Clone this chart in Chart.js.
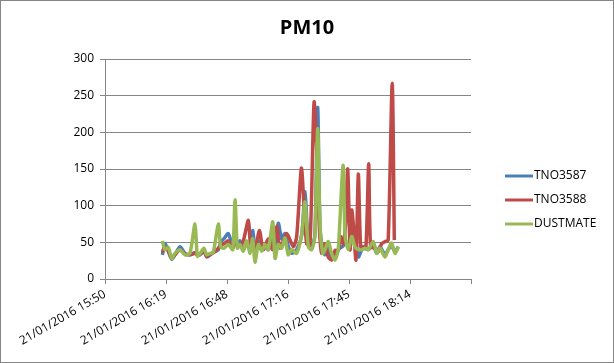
<!DOCTYPE html>
<html>
<head>
<meta charset="utf-8">
<title>PM10</title>
<script src="https://cdn.jsdelivr.net/npm/chart.js@4/dist/chart.umd.min.js"></script>
<style>
    html, body { margin: 0; padding: 0; background: #fff; }
    #wrap { width: 614px; height: 363px; box-sizing: border-box; border: 1px solid #868686; }
    canvas { display: block; }
</style>
</head>
<body>
<div id="wrap"><canvas id="pm10Chart" width="612" height="361"></canvas></div>
<script>
// ============================================
// DATA (time = minutes after 21/01/2016 15:50)
// ============================================

const xTickLabels = [
    '21/01/2016 15:50', '21/01/2016 16:19', '21/01/2016 16:48',
    '21/01/2016 17:16', '21/01/2016 17:45', '21/01/2016 18:14'
];

const seriesNames = ['TNO3587', 'TNO3588', 'DUSTMATE'];

// TNO3587 and DUSTMATE share the same sample times
const sampleMinutes = [
    27.1, 28.3, 29.9, 31.5, 33.0, 35.4, 37.8, 40.1, 42.5, 43.6,
    44.9, 46.7, 48.0, 49.6, 51.1, 53.5, 54.6, 56.2, 58.2, 60.3,
    61.4, 62.5, 63.7, 65.3, 66.9, 68.5, 69.7, 70.8, 72.4, 74.0,
    75.5, 77.1, 79.2, 80.3, 81.8, 83.4, 85.0, 86.5, 88.1, 90.5,
    92.9, 94.4, 96.0, 97.6, 99.1, 100.4, 101.5, 102.8, 103.9, 105.4,
    107.0, 108.6, 110.1, 112.4, 113.4, 114.9, 116.5, 118.0, 119.6, 121.2,
    122.7, 124.3, 126.7, 128.3, 129.8, 132.2, 133.7, 135.3, 136.9, 138.5
];

const tno3587Values = [
    33, 48, 38, 27, 33, 44, 35, 33, 36, 33,
    33, 38, 30, 33, 36, 40, 50, 55, 62, 45,
    55, 48, 52, 40, 48, 42, 66, 45, 52, 42,
    45, 40, 55, 45, 76, 55, 62, 45, 35, 40,
    60, 119, 50, 45, 60, 234, 70, 40, 33, 44,
    28, 30, 40, 45, 50, 45, 66, 60, 30, 40,
    42, 40, 45, 35, 44, 33, 40, 45, 38, 44
];

const dustmateValues = [
    52, 40, 43, 28, 35, 40, 33, 35, 75, 31,
    35, 42, 33, 35, 36, 75, 44, 42, 47, 40,
    108, 42, 47, 38, 52, 35, 55, 23, 47, 38,
    47, 40, 78, 28, 47, 42, 56, 33, 40, 35,
    62, 105, 44, 40, 58, 205, 76, 35, 40, 51,
    35, 26, 40, 155, 58, 40, 58, 44, 40, 40,
    42, 40, 51, 35, 42, 30, 40, 49, 35, 44
];

const tno3588Minutes = [
    27.1, 28.3, 29.9, 31.5, 33.0, 35.4, 37.8, 40.1, 42.5, 43.6,
    44.9, 46.7, 48.0, 49.6, 51.1, 53.5, 54.6, 56.2, 58.2, 60.3,
    61.4, 62.5, 63.7, 65.3, 67.7, 68.8, 70.8, 72.9, 74.7, 77.1,
    79.2, 81.1, 82.6, 85.8, 88.9, 90.5, 92.7, 94.0, 95.2, 96.8,
    98.7, 99.9, 101.2, 102.3, 103.9, 105.4, 107.0, 108.6, 110.1, 111.3,
    112.5, 113.6, 114.6, 115.7, 116.5, 117.2, 118.5, 119.6, 120.7, 121.9,
    123.2, 124.5, 125.4, 127.5, 129.0, 130.6, 132.2, 133.7, 135.6, 136.6
];

const tno3588Values = [
    36, 44, 38, 28, 33, 40, 34, 33, 35, 33,
    34, 38, 31, 33, 36, 42, 46, 48, 52, 42,
    50, 45, 45, 52, 80, 45, 40, 66, 40, 55,
    40, 72, 42, 62, 44, 58, 151, 99, 48, 48,
    241, 180, 70, 35, 48, 30, 26, 39, 39, 58,
    48, 76, 150, 40, 94, 76, 26, 143, 44, 44,
    44, 157, 44, 42, 37, 48, 51, 53, 267, 53
];

const seriesColors = ['#4A7EBB', '#BE4B48', '#98B954'];

// ============================================
// HELPERS
// ============================================

function toPoints(minutes, values) {
    // axis works in seconds so the 28.8 min tick step is a whole number
    return minutes.map((m, i) => ({ x: m * 60, y: values[i] }));
}

// legend drawn by hand in the empty band right of the plot
const sideLegend = {
    id: 'sideLegend',
    afterDraw(chart) {
        const { ctx, chartArea } = chart;
        const x = chartArea.right + 34;
        ctx.save();
        ctx.font = '12px "Open Sans"';
        ctx.textBaseline = 'middle';
        chart.data.datasets.forEach((ds, i) => {
            const y = chartArea.top + 117 + i * 24;
            ctx.strokeStyle = ds.borderColor;
            ctx.lineWidth = 3;
            ctx.beginPath();
            ctx.moveTo(x, y);
            ctx.lineTo(x + 28, y);
            ctx.stroke();
            ctx.fillStyle = '#000';
            ctx.fillText(ds.label, x + 29, y);
        });
        ctx.restore();
    }
};

// ============================================
// CHART
// ============================================

const gridColor = '#868686';
const tickFont = { family: 'Open Sans', size: 12 };

new Chart(document.getElementById('pm10Chart'), {
    type: 'line',
    data: {
        datasets: [
            {
                label: seriesNames[0],
                data: toPoints(sampleMinutes, tno3587Values),
                borderColor: seriesColors[0],
                order: 3
            },
            {
                label: seriesNames[1],
                data: toPoints(tno3588Minutes, tno3588Values),
                borderColor: seriesColors[1],
                order: 2
            },
            {
                label: seriesNames[2],
                data: toPoints(sampleMinutes, dustmateValues),
                borderColor: seriesColors[2],
                order: 1
            }
        ]
    },
    options: {
        responsive: false,
        animation: false,
        elements: {
            line: { borderWidth: 3.5, tension: 0.25, fill: false },
            point: { radius: 0 }
        },
        plugins: {
            legend: { display: false },
            tooltip: { enabled: false },
            title: {
                display: true,
                text: 'PM10',
                color: '#000',
                font: { family: 'Open Sans', size: 20, weight: 'bold', lineHeight: 1.2 },
                padding: { top: 15, bottom: 19 }
            }
        },
        scales: {
            x: {
                type: 'linear',
                min: 0,
                max: 10368,
                afterFit(scale) { scale.height = 83; },
                ticks: {
                    stepSize: 1728,
                    autoSkip: false,
                    maxRotation: 30,
                    minRotation: 30,
                    color: '#000',
                    font: tickFont,
                    callback: function (value, index) {
                        return xTickLabels[index] || '';
                    }
                },
                grid: { drawOnChartArea: false, color: gridColor, tickLength: 5 },
                border: { color: gridColor }
            },
            y: {
                min: 0,
                max: 300,
                afterFit(scale) { scale.width = 104; },
                ticks: { stepSize: 50, color: '#000', font: tickFont, padding: 6 },
                grid: { color: gridColor, tickLength: 5 },
                border: { color: gridColor }
            },
            // empty scale that only reserves room for the legend
            legendSpace: {
                position: 'right',
                afterFit(scale) { scale.width = 142; },
                ticks: { display: false },
                grid: { display: false },
                border: { display: false }
            }
        }
    },
    plugins: [sideLegend]
});
</script>
</body>
</html>
